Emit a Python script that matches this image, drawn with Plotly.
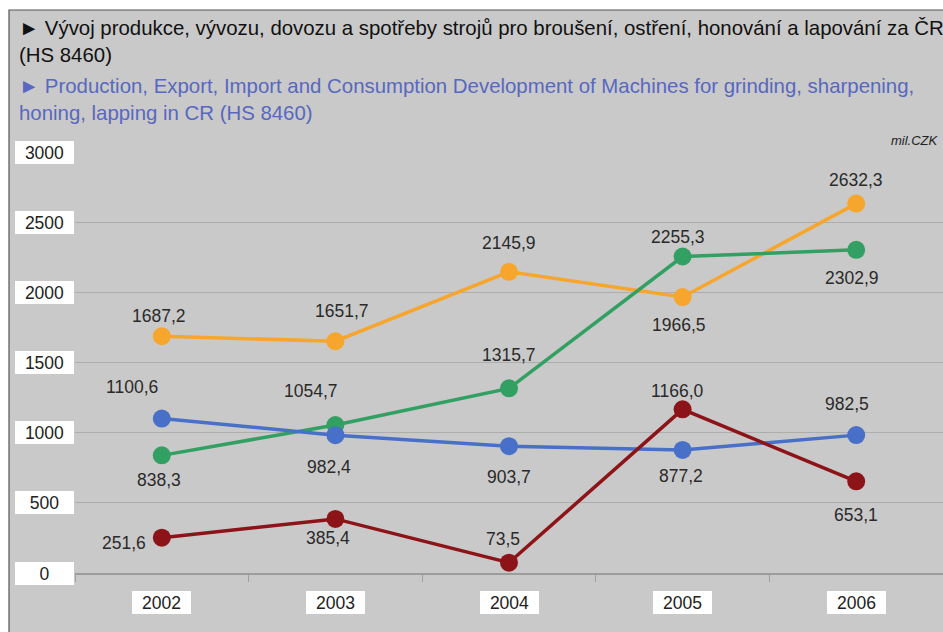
import plotly.graph_objects as go

years = ["2002", "2003", "2004", "2005", "2006"]
series_names = ["Spotřeba", "Výroba", "Vývoz", "Dovoz"]
consumption = [1687.2, 1651.7, 2145.9, 1966.5, 2632.3]   # orange
production = [838.3, 1054.7, 1315.7, 2255.3, 2302.9]     # green
export_ = [1100.6, 982.4, 903.7, 877.2, 982.5]           # blue
import_ = [251.6, 385.4, 73.5, 1166.0, 653.1]            # dark red
y_ticks = [0, 500, 1000, 1500, 2000, 2500, 3000]

title_cz = "► Vývoj produkce, vývozu, dovozu a spotřeby strojů pro broušení, ostření, honování a lapování za ČR"
title_cz2 = "(HS 8460)"
title_en = "► Production, Export, Import and Consumption Development of Machines for grinding, sharpening,"
title_en2 = "honing, lapping in CR (HS 8460)"
unit = "mil.CZK"

# styling (label offsets in pixels, per point)
colors = ["#F7A62D", "#33A063", "#4870C8", "#8C1419"]
offsets = [
    [(-3, 20), (7, 30), (0, 29), (-4, -28), (0, 24)],
    [(-3, -25), (-24, 34), (0, 33), (-5, 20), (-4, -28)],
    [(-30, 32), (-6, -32), (0, -31), (-2, -26), (-9, 31)],
    [(-38, -5), (-7, -19), (-6, 24), (-6, 18), (0, -34)],
]

W, H = 943, 632
L, R, T, B = 75, 0, 152, 59
PW, PH = W - L - R, H - T - B


def px(x):
    return (x - L) / PW


def py(y):
    return (H - B - y) / PH


FONT = "Liberation Sans, Arial, sans-serif"
fig = go.Figure()
all_series = [consumption, production, export_, import_]
for name, vals, col in zip(series_names, all_series, colors):
    fig.add_trace(go.Scatter(
        x=years, y=vals, name=name, mode="lines+markers",
        line=dict(color=col, width=3.5),
        marker=dict(color=col, size=18),
        cliponaxis=False, hoverinfo="skip",
    ))

ann = []
for vals, offs in zip(all_series, offsets):
    for i, (v, (dx, dy)) in enumerate(zip(vals, offs)):
        ann.append(dict(x=i, y=v, xref="x", yref="y", text=f"{v:.1f}".replace(".", ","),
                        showarrow=False, xshift=dx, yshift=dy,
                        font=dict(family=FONT, size=17.5, color="#2a2a2a")))

for t in y_ticks:
    ann.append(dict(x=px(44.5), y=t, xref="paper", yref="y", text=str(t), showarrow=False,
                    xanchor="center", yanchor="middle", bgcolor="white", width=57, height=21,
                    borderpad=0, borderwidth=1, bordercolor="white",
                    font=dict(family=FONT, size=17.5, color="#222")))
for i, yr in enumerate(years):
    ann.append(dict(x=i, y=py(602), xref="x", yref="paper", text=yr, showarrow=False,
                    xanchor="center", yanchor="middle", bgcolor="white", width=57, height=21,
                    borderpad=0, borderwidth=1, bordercolor="white",
                    font=dict(family=FONT, size=17.5, color="#222")))

titles = [(title_cz, 28, "#111111"), (title_cz2, 55, "#111111"),
          (title_en, 86, "#5868C0"), (title_en2, 113, "#5868C0")]
for txt, yy, col in titles:
    ann.append(dict(x=px(17), y=py(yy), xref="paper", yref="paper", text=txt, showarrow=False,
                    xanchor="left", yanchor="middle",
                    font=dict(family=FONT, size=20.4, color=col)))
ann.append(dict(x=px(941), y=py(141), xref="paper", yref="paper", text=f"<i>{unit}</i>",
                showarrow=False, xanchor="right", yanchor="middle",
                font=dict(family=FONT, size=13, color="#222")))

fig.update_layout(
    width=W, height=H,
    margin=dict(l=L, r=R, t=T, b=B),
    paper_bgcolor="white",
    plot_bgcolor="rgba(0,0,0,0)",
    showlegend=False,
    annotations=ann,
    shapes=[dict(type="rect", xref="paper", yref="paper", layer="below",
                 x0=px(9), x1=px(960), y0=py(660), y1=py(10),
                 fillcolor="#C9C9C9", line=dict(color="#555555", width=1.2))],
    xaxis=dict(type="category", range=[-0.5, 4.5], showticklabels=False,
               showline=True, linecolor="#9C9C9C", linewidth=1.5,
               ticks="outside", tickson="boundaries", ticklen=7, tickcolor="#A0A0A0",
               showgrid=False, zeroline=False, fixedrange=True),
    yaxis=dict(range=[0, 3000], tickvals=y_ticks, showticklabels=False,
               showgrid=True, gridcolor="#ADADAD", gridwidth=1, zeroline=False,
               fixedrange=True),
)

fig.write_html("out.html", config={"displayModeBar": False},
               post_script="document.body.style.margin='0';document.body.style.overflow='hidden';")
